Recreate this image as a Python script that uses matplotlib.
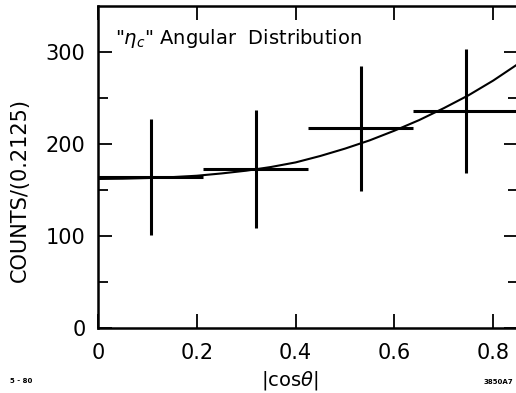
import numpy as np
import matplotlib
matplotlib.use('Agg')
import matplotlib.pyplot as plt
from matplotlib.ticker import FixedLocator

# measured bins in |cos theta| (bin width 0.2125)
bin_centers = [0.10625, 0.31875, 0.53125, 0.74375]
bin_halfwidth = [0.10625, 0.10625, 0.10625, 0.10625]
counts = [164, 173, 217, 236]
count_errs = [63, 64, 68, 67]

# fitted curve
curve_x = [0.0, 0.05, 0.10, 0.15, 0.20, 0.25, 0.30, 0.35, 0.40, 0.45,
           0.50, 0.55, 0.60, 0.65, 0.70, 0.75, 0.80, 0.85]
curve_y = [162, 162.3, 163, 164, 165.5, 168, 171, 175, 180, 187,
           195, 204, 214.5, 226, 239, 253, 269, 287]

xticks = [0, 0.2, 0.4, 0.6, 0.8]
xticklabels = ['0', '0.2', '0.4', '0.6', '0.8']
yticks = [0, 100, 200, 300]

fig = plt.figure(figsize=(5.16, 3.93), dpi=100)
ax = fig.add_axes([98 / 516, 65 / 393, 420 / 516, 322 / 393])

# data points with bin-width and statistical error bars
ax.errorbar(bin_centers, counts, xerr=bin_halfwidth, yerr=count_errs,
            fmt='none', ecolor='black', elinewidth=2.2, capsize=0)

# the fit
ax.plot(curve_x, curve_y, color='black', lw=1.5)

ax.set_xlim(0, 0.85)
ax.set_ylim(0, 350)

ax.set_xticks(xticks)
ax.set_xticklabels(xticklabels)
ax.set_yticks(yticks)
ax.yaxis.set_minor_locator(FixedLocator([50, 150, 250]))

ax.tick_params(axis='both', which='major', direction='in', length=10,
               width=1.3, labelsize=15, pad=9, top=True, right=True)
ax.tick_params(axis='y', which='minor', direction='in', length=7,
               width=1.3, right=True)
ax.tick_params(axis='x', which='major', pad=11)

for s in ax.spines.values():
    s.set_linewidth(1.8)

ax.text(0.035, 315, '"$\\eta_c$" Angular  Distribution', fontsize=14,
        va='center', ha='left')

ax.set_ylabel('COUNTS/(0.2125)', fontsize=15)
ax.yaxis.set_label_coords(-0.162, 0.43)
ax.set_xlabel('|cos$\\theta$|', fontsize=14)
ax.xaxis.set_label_coords((290 - 98) / 420, -0.128)

fig.text(10 / 516, 1 - 381 / 393, '5 - 80', fontsize=5, weight='bold',
         va='center', ha='left')
fig.text(513 / 516, 1 - 382 / 393, '3850A7', fontsize=5, weight='bold',
         va='center', ha='right')

fig.savefig('out.png', dpi=100)
